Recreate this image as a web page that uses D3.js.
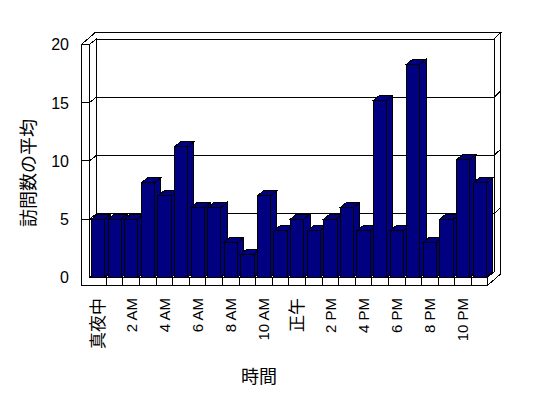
<!DOCTYPE html>
<html>
<head>
<meta charset="utf-8">
<script src="https://cdn.jsdelivr.net/npm/d3@7"></script>
<style>
  body { margin: 0; background: #fff; }
  text { font-family: "Liberation Sans", "Noto Sans CJK JP", sans-serif; fill: #000; }
</style>
</head>
<body>
<div id="chart"></div>
<script>
// data
var hours = ['真夜中', '1 AM', '2 AM', '3 AM', '4 AM', '5 AM', '6 AM', '7 AM', '8 AM', '9 AM', '10 AM', '11 AM',
             '正午', '1 PM', '2 PM', '3 PM', '4 PM', '5 PM', '6 PM', '7 PM', '8 PM', '9 PM', '10 PM', '11 PM'];
var visits = [5, 5, 5, 8.1, 7, 11.2, 6, 6, 3, 2, 7, 4,
              5, 4, 5, 6, 4, 15.2, 4, 18.3, 3, 5, 10.1, 8.1];
var hourLabels = ['真夜中', '2 AM', '4 AM', '6 AM', '8 AM', '10 AM', '正午', '2 PM', '4 PM', '6 PM', '8 PM', '10 PM'];
var yTicks = [0, 5, 10, 15, 20];
var gridTicks = [5, 10, 15];
var yTitle = '訪問数の平均';
var xTitle = '時間';

var W = 548, H = 398;
var svg = d3.select('#chart').append('svg')
    .attr('width', W)
    .attr('height', H)
    .style('shape-rendering', 'crispEdges');

var x = d3.scaleBand()
    .domain(hours)
    .range([89.8, 488])
    .paddingInner(0.2)
    .paddingOuter(0.1);

var y = d3.scaleLinear()
    .domain([0, 20])
    .range([277.3, 44.3]);

// depth offsets: front plane, bar back, back wall front, back wall back
var Z0 = [0, 0], ZBAR = [6.2, -5], ZW = [6.8, -5.3], ZB = [13.5, -11.8];
var xL0 = 81.7, xL1 = 89.5, xR = 487.3;
var yTop = y(20), yBase = y(0), yBot = y(0) + 8.3;

function pt(px, py, off) { return [px + off[0], py + off[1]]; }
function face(pts, fill) {
    return svg.append('polygon')
        .attr('points', pts.map(function(p) { return p.join(','); }).join(' '))
        .attr('fill', fill)
        .attr('stroke', '#000')
        .attr('stroke-width', 1);
}

// back wall front face
face([pt(xL1, yTop, ZW), pt(xR, yTop, ZW), pt(xR, yBase, ZW), pt(xL1, yBase, ZW)], '#fff');
// top of left wall + back wall
face([pt(xL0, yTop, Z0), pt(xL0, yTop, ZB), pt(xR, yTop, ZB), pt(xR, yTop, ZW), pt(xL1, yTop, ZW), pt(xL1, yTop, Z0)], '#fff');
// right side of back wall + floor
face([pt(xR, yTop, ZW), pt(xR, yTop, ZB), pt(xR, yBot, ZB), pt(xR, yBot, Z0), pt(xR, yBase, Z0), pt(xR, yBase, ZW)], '#fff');
// inner face of left wall
face([pt(xL1, yTop, Z0), pt(xL1, yTop, ZW), pt(xL1, yBase, ZW), pt(xL1, yBase, Z0)], '#fff');
// floor top
face([pt(xL1, yBase, Z0), pt(xR, yBase, Z0), pt(xR, yBase, ZW), pt(xL1, yBase, ZW)], '#fff');
// front face (left wall + floor)
face([[xL0, yTop], [xL1, yTop], [xL1, yBase], [xR, yBase], [xR, yBot], [xL0, yBot]], '#fff');

// dividers on the floor front
svg.selectAll('line.cell')
    .data(hours.slice(1))
    .enter()
    .append('line')
        .attr('class', 'cell')
        .attr('x1', function(d) { return x(d) - x.step() * 0.1; })
        .attr('x2', function(d) { return x(d) - x.step() * 0.1; })
        .attr('y1', yBase)
        .attr('y2', yBot)
        .attr('stroke', '#000');

// gridlines
svg.selectAll('polyline.grid')
    .data(gridTicks)
    .enter()
    .append('polyline')
        .attr('class', 'grid')
        .attr('fill', 'none')
        .attr('stroke', '#000')
        .attr('points', function(v) {
            var p = [pt(xL0, y(v), Z0), pt(xL1, y(v), Z0), pt(xL1, y(v), ZW), pt(xR, y(v), ZW), pt(xR, y(v), ZB)];
            return p.map(function(q) { return q.join(','); }).join(' ');
        });

// bars, left to right
var bw = x.bandwidth();
hours.forEach(function(h, i) {
    var x0 = x(h), x1 = x(h) + bw, yv = y(visits[i]);
    face([pt(x1, yv, Z0), pt(x1, yv, ZBAR), pt(x1, yBase, ZBAR), pt(x1, yBase, Z0)], '#000080');
    face([pt(x0, yv, Z0), pt(x0, yv, ZBAR), pt(x1, yv, ZBAR), pt(x1, yv, Z0)], '#000080');
    face([[x0, yv], [x1, yv], [x1, yBase], [x0, yBase]], '#000080');
});

// axes
var yAxis = svg.append('g')
    .attr('transform', 'translate(' + xL0 + ',0)')
    .call(d3.axisLeft(y).tickValues(yTicks).tickSize(0).tickPadding(12.7));
yAxis.select('.domain').remove();
yAxis.attr('font-family', null);
yAxis.selectAll('text')
    .attr('font-size', 16)
    .attr('fill', '#000')
    .attr('dy', '0.35em');

var xAxis = svg.append('g')
    .attr('transform', 'translate(0,298)')
    .call(d3.axisBottom(x).tickValues(hourLabels).tickSize(0));
xAxis.select('.domain').remove();
xAxis.attr('font-family', null);
xAxis.selectAll('text')
    .attr('font-size', function(d) { return /[A-Z]/.test(d) ? 15 : 17; })
    .attr('fill', '#000')
    .attr('transform', 'rotate(-90)')
    .attr('x', 0)
    .attr('y', 0)
    .attr('dy', '0.35em')
    .style('text-anchor', 'end');

svg.append('text')
    .attr('transform', 'translate(29,173) rotate(-90)')
    .attr('text-anchor', 'middle')
    .attr('dy', '0.35em')
    .attr('font-size', 18)
    .text(yTitle);

svg.append('text')
    .attr('x', 259)
    .attr('y', 377)
    .attr('text-anchor', 'middle')
    .attr('dy', '0.35em')
    .attr('font-size', 18)
    .text(xTitle);
</script>
</body>
</html>
